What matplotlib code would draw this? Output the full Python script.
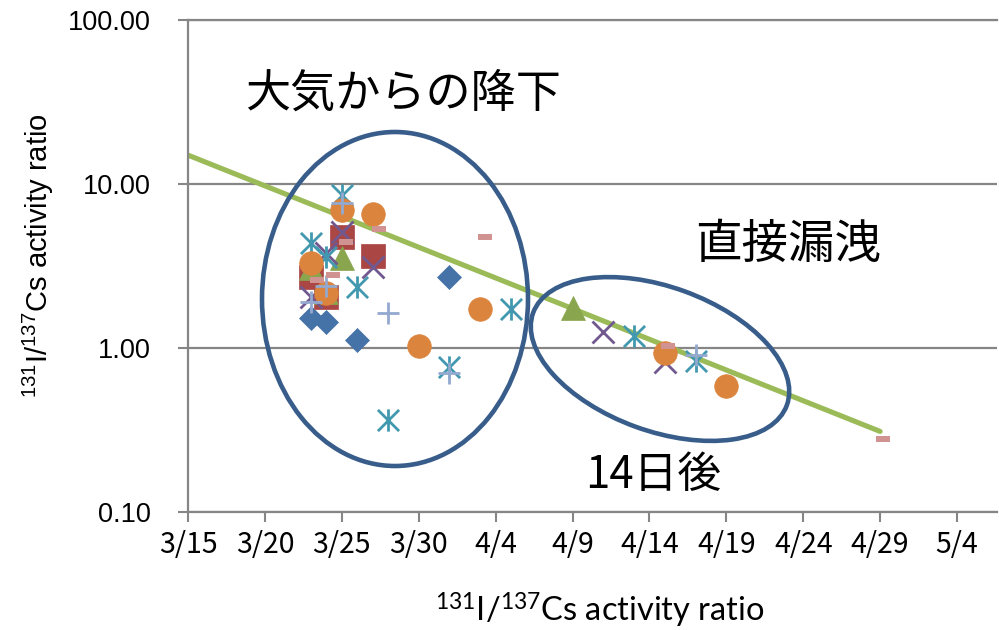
import matplotlib
matplotlib.use("Agg")
import matplotlib.pyplot as plt
from matplotlib.path import Path
from matplotlib.patches import Ellipse

# Sampling dates as days after 3/15; values are 131I/137Cs activity ratios
diamond_days = [8, 9, 11, 17]
diamond_vals = [1.52, 1.44, 1.12, 2.71]
square_days = [8, 9, 10, 12]
square_vals = [2.71, 2.05, 4.75, 3.64]
triangle_days = [8, 9, 10, 25]
triangle_vals = [3.07, 2.19, 3.54, 1.75]
cross_days = [8, 9, 10, 12, 27, 31]
cross_vals = [2.05, 3.8, 5.1, 3.12, 1.25, 0.82]
star_days = [8, 9, 10, 11, 13, 17, 21, 29, 33]
star_vals = [4.37, 3.59, 8.57, 2.35, 0.364, 0.766, 1.73, 1.18, 0.83]
circle_days = [8, 9, 10, 12, 15, 19, 31, 35]
circle_vals = [3.30, 2.16, 6.94, 6.56, 1.03, 1.73, 0.93, 0.59]
plus_days = [8, 9, 10, 13, 17, 33]
plus_vals = [1.91, 2.4, 7.66, 1.63, 0.70, 0.91]
dash_days = [8.4, 9.4, 10.3, 12.4, 19.3, 31.2, 45.2]
dash_vals = [2.60, 2.79, 4.43, 5.32, 4.75, 1.03, 0.279]

# Exponential trend (straight on the log axis)
trend_days = [0, 45]
trend_vals = [15.0, 0.31]

x_tick_days = [0, 5, 10, 15, 20, 25, 30, 35, 40, 45, 50]
x_tick_labels = ["3/15", "3/20", "3/25", "3/30", "4/4", "4/9",
                 "4/14", "4/19", "4/24", "4/29", "5/4"]
y_tick_vals = [0.1, 1, 10, 100]
y_tick_labels = ["0.10", "1.00", "10.00", "100.00"]

GRAY = "#868686"
JP = ["Noto Sans CJK JP", "DejaVu Sans"]
ARIAL = ["Liberation Sans", "DejaVu Sans"]

fig = plt.figure(figsize=(9.99, 6.30), dpi=100)
ax = fig.add_axes([188 / 999, 118 / 630, 809 / 999, 492 / 630])
ax.set_yscale("log")
ax.set_xlim(0, 52.6)
ax.set_ylim(0.1, 100)

# Excel-style star: an X with a vertical bar
star_path = Path([(-1, -1), (1, 1), (-1, 1), (1, -1), (0, -1.05), (0, 1.05)],
                 [Path.MOVETO, Path.LINETO] * 3)
dash_path = Path([(-1, -0.45), (1, -0.45), (1, 0.45), (-1, 0.45), (-1, -0.45)],
                 [Path.MOVETO, Path.LINETO, Path.LINETO, Path.LINETO, Path.CLOSEPOLY])

ax.plot(trend_days, trend_vals, color="#9BBB59", lw=3.7,
        solid_capstyle="round", zorder=2)

ax.plot(diamond_days, diamond_vals, ls="none", marker="D", ms=12.5,
        mfc="#4572A7", mec="#4572A7", mew=0.5, zorder=3)
ax.plot(square_days, square_vals, ls="none", marker="s", ms=17,
        mfc="#AA4643", mec="#AA4643", mew=0.5, zorder=3)
ax.plot(triangle_days, triangle_vals, ls="none", marker="^", ms=17,
        mfc="#89A54E", mec="#89A54E", mew=0.5, zorder=3)
ax.plot(cross_days, cross_vals, ls="none", marker="x", ms=15.5,
        mec="#71588F", mew=2.0, zorder=3)
ax.plot(star_days, star_vals, ls="none", marker=star_path, ms=16,
        mfc="none", mec="#4198AF", mew=2.0, zorder=3)
ax.plot(circle_days, circle_vals, ls="none", marker="o", ms=17,
        mfc="#DB843D", mec="#DB843D", mew=0.5, zorder=3)
ax.plot(plus_days, plus_vals, ls="none", marker="+", ms=16,
        mec="#93A9CF", mew=2.0, zorder=3)
ax.plot(dash_days, dash_vals, ls="none", marker=dash_path, ms=9.5,
        mfc="#D19392", mec="none", mew=0, zorder=3)

# Axes styling
ax.set_xticks(x_tick_days)
ax.set_xticklabels(x_tick_labels, family=JP, fontsize=20.5)
ax.set_yticks(y_tick_vals)
ax.set_yticklabels(y_tick_labels, family=ARIAL, fontsize=19.5)
ax.yaxis.set_minor_locator(matplotlib.ticker.NullLocator())
ax.tick_params(axis="both", direction="out", length=7, width=1.5, color=GRAY)
ax.tick_params(axis="y", pad=20)
ax.tick_params(axis="x", pad=6)
ax.grid(axis="y", color=GRAY, lw=1.6)
ax.set_axisbelow(True)
for side in ("left", "bottom", "top"):
    ax.spines[side].set_color(GRAY)
    ax.spines[side].set_linewidth(1.6)
ax.spines["right"].set_visible(False)

fig.text(38 / 999, 1 - 256 / 630,
         r"$\mathregular{^{131}I/^{137}Cs}$ activity ratio",
         rotation=90, ha="center", va="center", family=ARIAL, fontsize=21)
fig.text(600 / 999, 1 - 622 / 630,
         r"$\mathregular{^{131}I/^{137}Cs}$ activity ratio",
         ha="center", va="baseline", family=["Lato", "DejaVu Sans"], fontsize=23.5)

# Grouping outlines
ell_color = "#385D8A"
fig.patches.append(Ellipse((3.95, 3.31), 2.66, 3.34, angle=0,
                           transform=fig.dpi_scale_trans, fill=False,
                           ec=ell_color, lw=3.3, zorder=5))
fig.patches.append(Ellipse((6.60, 2.71), 2.70, 1.44, angle=-20,
                           transform=fig.dpi_scale_trans, fill=False,
                           ec=ell_color, lw=3.3, zorder=5))

ax.text((245 - 188) / 809, (512 - 95) / 492, "大気からの降下",
        transform=ax.transAxes, ha="left", va="center", family=JP, fontsize=32.5)
ax.text((695 - 188) / 809, (512 - 245) / 492, "直接漏洩",
        transform=ax.transAxes, ha="left", va="center", family=JP, fontsize=33.5)
ax.text((585 - 188) / 809, (512 - 475) / 492, "14日後",
        transform=ax.transAxes, ha="left", va="center", family=JP, fontsize=31.5)

fig.savefig("out.png", dpi=100)
